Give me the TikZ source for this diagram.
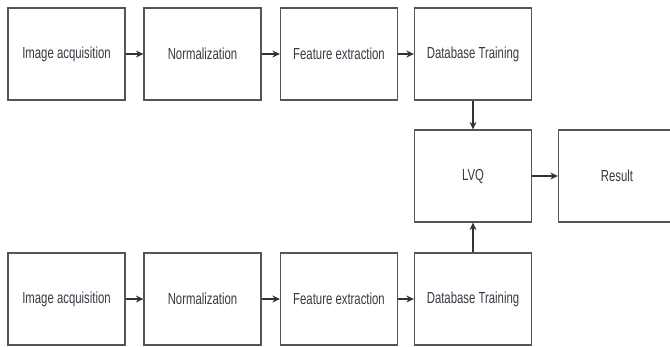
\documentclass[tikz,border=0pt]{standalone}
\usepackage{fontspec}
\newfontfamily\narrowfont[FakeStretch=0.71]{Liberation Sans}
\usetikzlibrary{arrows.meta}
\definecolor{boxline}{HTML}{555555}
\definecolor{txt}{HTML}{3A3A44}
\begin{document}
\begin{tikzpicture}[x=1pt,y=-1pt,
  stagebox/.style={draw=boxline,line width=1.3pt,fill=white,minimum width=117pt,minimum height=92pt,inner sep=0pt,
    font=\narrowfont\fontsize{16}{18}\selectfont,text=txt},
  flow/.style={draw=black!80,line width=1.1pt,-{Stealth[length=7.5pt,width=7pt,inset=2.5pt]}}]
\useasboundingbox (0,0) rectangle (670,346);
\begin{scope}
\clip (0,0) rectangle (670,346);
\node[stagebox] (a1) at (66.5,54) {Image acquisition};
\node[stagebox] (a2) at (202.5,54) {Normalization};
\node[stagebox] (a3) at (339,54) {Feature extraction};
\node[stagebox] (a4) at (473,54) {Database Training};
\node[stagebox] (lvq) at (473,176) {LVQ};
\node[stagebox] (res) at (617,176) {Result};
\node[stagebox] (b1) at (66.5,299) {Image acquisition};
\node[stagebox] (b2) at (202.5,299) {Normalization};
\node[stagebox] (b3) at (339,299) {Feature extraction};
\node[stagebox] (b4) at (473,299) {Database Training};
\draw[flow] (a1) -- (a2);
\draw[flow] (a2) -- (a3);
\draw[flow] (a3) -- (a4);
\draw[flow] (a4) -- (lvq);
\draw[flow] (b1) -- (b2);
\draw[flow] (b2) -- (b3);
\draw[flow] (b3) -- (b4);
\draw[flow] (b4) -- (lvq);
\draw[flow] (lvq) -- (res);
\end{scope}
\end{tikzpicture}
\end{document}
